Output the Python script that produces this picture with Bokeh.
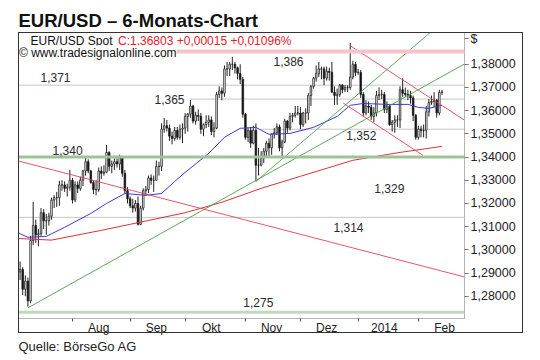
import numpy as np
import pandas as pd
from bokeh.plotting import figure
from bokeh.models import Range1d, FixedTicker, Label, Span, ColumnDataSource, InlineStyleSheet, Title
from bokeh.embed import file_html
from bokeh.resources import INLINE

ORIGIN = "2013-07-01"          # trading-day index 0
FIRST_DAY, LAST_DAY = "2013-07-03", "2014-02-14"

# daily EUR/USD candles, one line per month
opens = [
    1.3010, 1.2905, 1.2915, 1.2830, 1.2865, 1.2780, 1.3040, 1.3105, 1.3065, 1.3070, 1.3160, 1.3125, 1.3125, 1.3145, 1.3215, 1.3225, 1.3225, 1.3280, 1.3280, 1.3265, 1.3270,
    1.3300, 1.3215, 1.3280, 1.3265, 1.3300, 1.3340, 1.3380, 1.3340, 1.3290, 1.3260, 1.3260, 1.3340, 1.3330, 1.3335, 1.3420, 1.3360, 1.3370, 1.3380, 1.3370, 1.3400, 1.3330, 1.3255,
    1.3220, 1.3190, 1.3180, 1.3200, 1.3110, 1.3180, 1.3255, 1.3260, 1.3310, 1.3300, 1.3300, 1.3360, 1.3360, 1.3520, 1.3535, 1.3525, 1.3490, 1.3480, 1.3515, 1.3485, 1.3520,
    1.3525, 1.3575, 1.3585, 1.3620, 1.3555, 1.3580, 1.3575, 1.3520, 1.3540, 1.3550, 1.3560, 1.3510, 1.3525, 1.3670, 1.3685, 1.3675, 1.3780, 1.3780, 1.3800, 1.3800, 1.3785, 1.3760, 1.3735,
    1.3585, 1.3485, 1.3515, 1.3460, 1.3515, 1.3365, 1.3365, 1.3395, 1.3425, 1.3460, 1.3440, 1.3500, 1.3505, 1.3530, 1.3440, 1.3465, 1.3555, 1.3525, 1.3575, 1.3580, 1.3590,
    1.3590, 1.3540, 1.3590, 1.3590, 1.3665, 1.3705, 1.3740, 1.3760, 1.3780, 1.3780, 1.3740, 1.3770, 1.3765, 1.3680, 1.3665, 1.3670, 1.3710, 1.3690, 1.3700, 1.3700, 1.3745, 1.3800,
    1.3765, 1.3765, 1.3670, 1.3590, 1.3620, 1.3615, 1.3575, 1.3590, 1.3665, 1.3670, 1.3670, 1.3605, 1.3620, 1.3540, 1.3550, 1.3560, 1.3560, 1.3690, 1.3675, 1.3670, 1.3665, 1.3655, 1.3580,
    1.3485, 1.3520, 1.3515, 1.3515, 1.3595, 1.3635, 1.3640, 1.3645, 1.3590, 1.3679,
]
highs = [
    1.3030, 1.2950, 1.2925, 1.2890, 1.2880, 1.3060, 1.3207, 1.3130, 1.3090, 1.3180, 1.3175, 1.3155, 1.3160, 1.3225, 1.3235, 1.3250, 1.3298, 1.3300, 1.3295, 1.3285, 1.3345,
    1.3310, 1.3295, 1.3295, 1.3315, 1.3345, 1.3400, 1.3390, 1.3345, 1.3300, 1.3300, 1.3355, 1.3360, 1.3365, 1.3452, 1.3425, 1.3385, 1.3395, 1.3395, 1.3410, 1.3405, 1.3345, 1.3270,
    1.3230, 1.3220, 1.3215, 1.3230, 1.3190, 1.3265, 1.3275, 1.3320, 1.3325, 1.3320, 1.3385, 1.3380, 1.3545, 1.3568, 1.3560, 1.3540, 1.3510, 1.3530, 1.3530, 1.3540, 1.3545,
    1.3590, 1.3590, 1.3646, 1.3625, 1.3595, 1.3605, 1.3590, 1.3545, 1.3580, 1.3580, 1.3575, 1.3550, 1.3680, 1.3705, 1.3700, 1.3795, 1.3810, 1.3810, 1.3832, 1.3810, 1.3790, 1.3800, 1.3745,
    1.3590, 1.3525, 1.3530, 1.3535, 1.3545, 1.3440, 1.3425, 1.3440, 1.3470, 1.3480, 1.3500, 1.3525, 1.3545, 1.3540, 1.3475, 1.3565, 1.3560, 1.3590, 1.3590, 1.3620, 1.3620,
    1.3615, 1.3595, 1.3610, 1.3675, 1.3710, 1.3745, 1.3795, 1.3810, 1.3790, 1.3790, 1.3790, 1.3785, 1.3810, 1.3705, 1.3695, 1.3715, 1.3715, 1.3710, 1.3710, 1.3893, 1.3815, 1.3810,
    1.3780, 1.3775, 1.3680, 1.3645, 1.3640, 1.3625, 1.3615, 1.3685, 1.3700, 1.3690, 1.3680, 1.3640, 1.3625, 1.3560, 1.3580, 1.3580, 1.3705, 1.3740, 1.3700, 1.3690, 1.3685, 1.3665, 1.3585,
    1.3535, 1.3535, 1.3540, 1.3620, 1.3650, 1.3665, 1.3680, 1.3650, 1.3690, 1.3690,
]
lows = [
    1.2890, 1.2870, 1.2805, 1.2800, 1.2755, 1.2770, 1.3020, 1.3030, 1.3015, 1.3060, 1.3090, 1.3065, 1.3105, 1.3130, 1.3180, 1.3185, 1.3190, 1.3255, 1.3250, 1.3230, 1.3255,
    1.3200, 1.3205, 1.3245, 1.3255, 1.3275, 1.3320, 1.3330, 1.3285, 1.3240, 1.3235, 1.3250, 1.3305, 1.3320, 1.3330, 1.3340, 1.3330, 1.3345, 1.3355, 1.3345, 1.3315, 1.3240, 1.3200,
    1.3180, 1.3160, 1.3165, 1.3105, 1.3106, 1.3170, 1.3235, 1.3245, 1.3280, 1.3250, 1.3300, 1.3320, 1.3340, 1.3505, 1.3510, 1.3470, 1.3455, 1.3470, 1.3475, 1.3475, 1.3460,
    1.3500, 1.3510, 1.3570, 1.3545, 1.3540, 1.3555, 1.3500, 1.3490, 1.3525, 1.3530, 1.3495, 1.3485, 1.3520, 1.3655, 1.3645, 1.3660, 1.3750, 1.3750, 1.3775, 1.3760, 1.3735, 1.3715, 1.3570,
    1.3475, 1.3465, 1.3440, 1.3455, 1.3295, 1.3320, 1.3360, 1.3375, 1.3400, 1.3405, 1.3410, 1.3480, 1.3495, 1.3425, 1.3400, 1.3460, 1.3505, 1.3515, 1.3550, 1.3570, 1.3580,
    1.3520, 1.3530, 1.3545, 1.3560, 1.3620, 1.3695, 1.3725, 1.3745, 1.3735, 1.3710, 1.3730, 1.3730, 1.3675, 1.3625, 1.3625, 1.3660, 1.3675, 1.3680, 1.3680, 1.3690, 1.3735, 1.3750,
    1.3755, 1.3655, 1.3575, 1.3580, 1.3590, 1.3560, 1.3550, 1.3575, 1.3645, 1.3650, 1.3590, 1.3590, 1.3535, 1.3510, 1.3505, 1.3530, 1.3525, 1.3660, 1.3660, 1.3645, 1.3630, 1.3555, 1.3475,
    1.3475, 1.3485, 1.3485, 1.3480, 1.3575, 1.3625, 1.3615, 1.3570, 1.3580, 1.3668,
]
closes = [
    1.2905, 1.2915, 1.2830, 1.2865, 1.2780, 1.3040, 1.3105, 1.3065, 1.3070, 1.3160, 1.3125, 1.3125, 1.3145, 1.3215, 1.3225, 1.3225, 1.3280, 1.3280, 1.3265, 1.3270, 1.3300,
    1.3215, 1.3280, 1.3265, 1.3300, 1.3340, 1.3380, 1.3340, 1.3290, 1.3260, 1.3260, 1.3340, 1.3330, 1.3335, 1.3420, 1.3360, 1.3370, 1.3380, 1.3370, 1.3400, 1.3330, 1.3255, 1.3220,
    1.3190, 1.3180, 1.3200, 1.3110, 1.3180, 1.3255, 1.3260, 1.3310, 1.3300, 1.3300, 1.3360, 1.3360, 1.3520, 1.3535, 1.3525, 1.3490, 1.3480, 1.3515, 1.3485, 1.3520, 1.3525,
    1.3575, 1.3585, 1.3620, 1.3555, 1.3580, 1.3575, 1.3520, 1.3540, 1.3550, 1.3560, 1.3510, 1.3525, 1.3670, 1.3685, 1.3675, 1.3780, 1.3780, 1.3800, 1.3800, 1.3785, 1.3760, 1.3735, 1.3585,
    1.3485, 1.3515, 1.3460, 1.3515, 1.3365, 1.3365, 1.3395, 1.3425, 1.3460, 1.3440, 1.3500, 1.3505, 1.3530, 1.3440, 1.3465, 1.3555, 1.3525, 1.3575, 1.3580, 1.3590, 1.3590,
    1.3540, 1.3590, 1.3590, 1.3665, 1.3705, 1.3740, 1.3760, 1.3780, 1.3780, 1.3740, 1.3770, 1.3765, 1.3680, 1.3665, 1.3670, 1.3710, 1.3690, 1.3700, 1.3700, 1.3745, 1.3800, 1.3765,
    1.3765, 1.3670, 1.3590, 1.3620, 1.3615, 1.3575, 1.3590, 1.3665, 1.3670, 1.3670, 1.3605, 1.3620, 1.3540, 1.3550, 1.3560, 1.3560, 1.3690, 1.3675, 1.3670, 1.3665, 1.3655, 1.3580, 1.3485,
    1.3520, 1.3515, 1.3515, 1.3595, 1.3635, 1.3640, 1.3645, 1.3590, 1.3679, 1.3680,
]

# moving averages
ma_blue_dates = ["2013-07-03", "2013-07-09", "2013-07-18", "2013-07-29", "2013-08-12", "2013-08-20",
                 "2013-08-29", "2013-09-10", "2013-09-18", "2013-09-25", "2013-10-01", "2013-10-14",
                 "2013-10-22", "2013-10-30", "2013-11-07", "2013-11-14", "2013-11-26", "2013-12-09",
                 "2013-12-20", "2013-12-27", "2014-01-03", "2014-01-16", "2014-01-28", "2014-02-03",
                 "2014-02-07", "2014-02-14"]
ma_blue_values = [1.3075, 1.3054, 1.3058, 1.3097, 1.3157, 1.3200, 1.3243, 1.3235, 1.3243, 1.3295,
                  1.3334, 1.3416, 1.3485, 1.3524, 1.3528, 1.3498, 1.3502, 1.3528, 1.3575, 1.3623,
                  1.3631, 1.3627, 1.3627, 1.3614, 1.3610, 1.3623]
ma_red_dates = ["2013-07-03", "2013-07-22", "2013-08-16", "2013-09-02", "2013-10-01", "2013-10-21",
                "2013-11-11", "2013-12-02", "2013-12-30", "2014-01-23", "2014-02-14"]
ma_red_values = [1.3049, 1.3042, 1.3084, 1.3110, 1.3160, 1.3205, 1.3265, 1.3317, 1.3386, 1.3420, 1.3446]

# horizontal levels
pink_level = 1.3855
gray_levels = [1.371, 1.365, 1.352, 1.314]
gray_level_starts = [ORIGIN, "2013-10-03", "2013-11-11", ORIGIN]
green_levels = [1.340, 1.2731]
green_level_colors = ["#9cc497", "#bddcb9"]

level_texts = ["1,386", "1,371", "1,365", "1,352", "1,340", "1,329", "1,314", "1,275"]
level_text_x = [99.7, 10.8, 54.3, 127.5, 15.4, 138.2, 122.6, 88.2]      # trading-day index
level_text_y = [1.3812, 1.3741, 1.3647, 1.3491, 1.3427, 1.3265, 1.3095, 1.2774]

# trend lines (trading-day index, price)
trend_x0 = [6, 93, 0, 129, 126.3]
trend_y0 = [1.2750, 1.3295, 1.3390, 1.3880, 1.3633]
trend_x1 = [173, 161, 173, 173, 156.8]
trend_y1 = [1.3804, 1.3951, 1.2882, 1.3556, 1.3407]
trend_colors = ["#4e9e4e", "#4e9e4e", "#e2435a", "#e2435a", "#e2435a"]

month_names = ["Aug", "Sep", "Okt", "Nov", "Dez", "2014", "Feb"]
month_firsts = ["2013-08-01", "2013-09-02", "2013-10-01", "2013-11-01", "2013-12-02", "2014-01-01", "2014-02-03"]
y_ticks = [1.28, 1.29, 1.30, 1.31, 1.32, 1.33, 1.34, 1.35, 1.36, 1.37, 1.38]
currency_tick, currency_text = 1.3909, "$"

FONT = "Liberation Sans"


def tidx(d):
    return int(np.busday_count(np.datetime64(ORIGIN), np.datetime64(d, "D")))


dates = pd.bdate_range(FIRST_DAY, LAST_DAY)
assert len(dates) == len(opens) == len(highs) == len(lows) == len(closes)
xi = [tidx(d.strftime("%Y-%m-%d")) for d in dates]

o = np.array(opens); c = np.array(closes)
up = c >= o
src = ColumnDataSource(dict(
    x=xi, high=highs, low=lows,
    top=np.maximum(o, c), bottom=np.minimum(o, c),
    fill=["white" if u else "#111111" for u in up],
))

X0, X1 = 2.4, 172.6
Y0, Y1 = 1.2704, 1.3937
W, H = 536, 359
ML, MT = 18, 32
FW, FH = 446, 286
MR, MB = W - ML - FW, H - MT - FH


def dx(page_x):   # page pixel -> data x
    return X0 + (page_x - ML) * (X1 - X0) / FW


def dy(page_y):   # page pixel -> data y
    return Y1 - (page_y - MT) * (Y1 - Y0) / FH


box_css = (":host::after{content:'';position:absolute;left:18px;top:32px;width:505px;height:301px;"
           "border:1.5px solid #333;box-sizing:border-box;pointer-events:none;z-index:5;}")

p = figure(width=W, height=H, output_backend="svg", toolbar_location=None,
           x_range=Range1d(X0, X1), y_range=Range1d(Y0, Y1), y_axis_location="right",
           min_border_left=ML, min_border_right=MR, min_border_top=MT, min_border_bottom=MB)
p.stylesheets = [InlineStyleSheet(css=box_css)]
p.xgrid.visible = False
p.ygrid.visible = False
p.outline_line_color = "#b4b4b4"
p.background_fill_color = "white"
p.border_fill_color = "white"

# title (above) and source (below)
p.title.text = "EUR/USD – 6-Monats-Chart"
p.title.align = "left"
p.title.text_font = FONT
p.title.text_font_size = "18.5px"
p.title.text_font_style = "bold"
p.title.text_color = "#111111"
p.title.standoff = 3
p.title.offset = 0
p.add_layout(Title(text="Quelle: BörseGo AG", align="left", text_font=FONT, text_font_size="13px",
                   text_font_style="normal", text_color="#222222", standoff=2, offset=0,
                   vertical_align="top"), "below")

# levels
p.add_layout(Span(location=pink_level, dimension="width", line_color="#f4c4cb", line_width=4))
for lv, st in zip(gray_levels, gray_level_starts):
    p.segment(x0=tidx(st), y0=lv, x1=200, y1=lv, line_color="#c6c6c6", line_width=1)
for lv, col in zip(green_levels, green_level_colors):
    p.add_layout(Span(location=lv, dimension="width", line_color=col, line_width=3))

# candles
p.segment(x0="x", y0="high", x1="x", y1="low", source=src, line_color="#222222", line_width=1)
p.vbar(x="x", width=0.6, top="top", bottom="bottom", source=src,
       fill_color="fill", line_color="#222222", line_width=0.8)

# moving averages
p.line([tidx(d) for d in ma_red_dates], ma_red_values, line_color="#d8323a", line_width=1)
p.line([tidx(d) for d in ma_blue_dates], ma_blue_values, line_color="#3a3ad0", line_width=1)

# trend lines
p.segment(x0=trend_x0, y0=trend_y0, x1=trend_x1, y1=trend_y1, line_color=trend_colors, line_width=0.9)

# level texts
for t, x, y in zip(level_texts, level_text_x, level_text_y):
    p.add_layout(Label(x=x, y=y, text=t, text_font=FONT, text_font_size="12px",
                       text_color="#2a2a2a", text_baseline="middle", text_align="left"))

# axes
xa = p.xaxis[0]
m_starts = [tidx(d) for d in month_firsts]
m_labels = [s + 10 for s in m_starts]
xa.ticker = FixedTicker(ticks=m_labels, minor_ticks=m_starts)
xa.major_label_overrides = {int(k): v for k, v in zip(m_labels, month_names)}
xa.major_tick_out = 0
xa.major_tick_in = 0
xa.major_tick_line_color = None
xa.minor_tick_out = 3
xa.minor_tick_in = 0
xa.minor_tick_line_color = "#555555"
xa.axis_line_color = "#b4b4b4"
xa.major_label_standoff = -1
xa.major_label_text_font = FONT
xa.major_label_text_font_size = "12px"
xa.major_label_text_color = "#222222"

ya = p.yaxis[0]
ya.ticker = FixedTicker(ticks=y_ticks + [currency_tick])
overrides = {v: f"{v:.5f}".replace(".", ",") for v in y_ticks}
overrides[currency_tick] = currency_text
ya.major_label_overrides = overrides
ya.major_tick_out = 4
ya.major_tick_in = 0
ya.major_tick_line_color = "#777777"
ya.minor_tick_line_color = None
ya.axis_line_color = "#b4b4b4"
ya.major_label_standoff = 2
ya.major_label_text_font = FONT
ya.major_label_text_font_size = "12.5px"
ya.major_label_text_color = "#222222"

# header texts inside the chart area
p.add_layout(Label(x=dx(30), y=dy(40.5), text="EUR/USD Spot", text_font=FONT, text_font_size="12px",
                   text_color="#111111", text_baseline="middle"))
p.add_layout(Label(x=dx(117.5), y=dy(40.5), text="C:1,36803 +0,00015 +0,01096%", text_font=FONT,
                   text_font_size="12px", text_color="#e3202c", text_baseline="middle"))
p.add_layout(Label(x=dx(18.5), y=dy(52), text="© www.tradesignalonline.com", text_font=FONT,
                   text_font_size="12px", text_color="#111111", text_baseline="middle",
                   background_fill_color="white"))

open("out.html", "w").write(file_html(p, INLINE))
